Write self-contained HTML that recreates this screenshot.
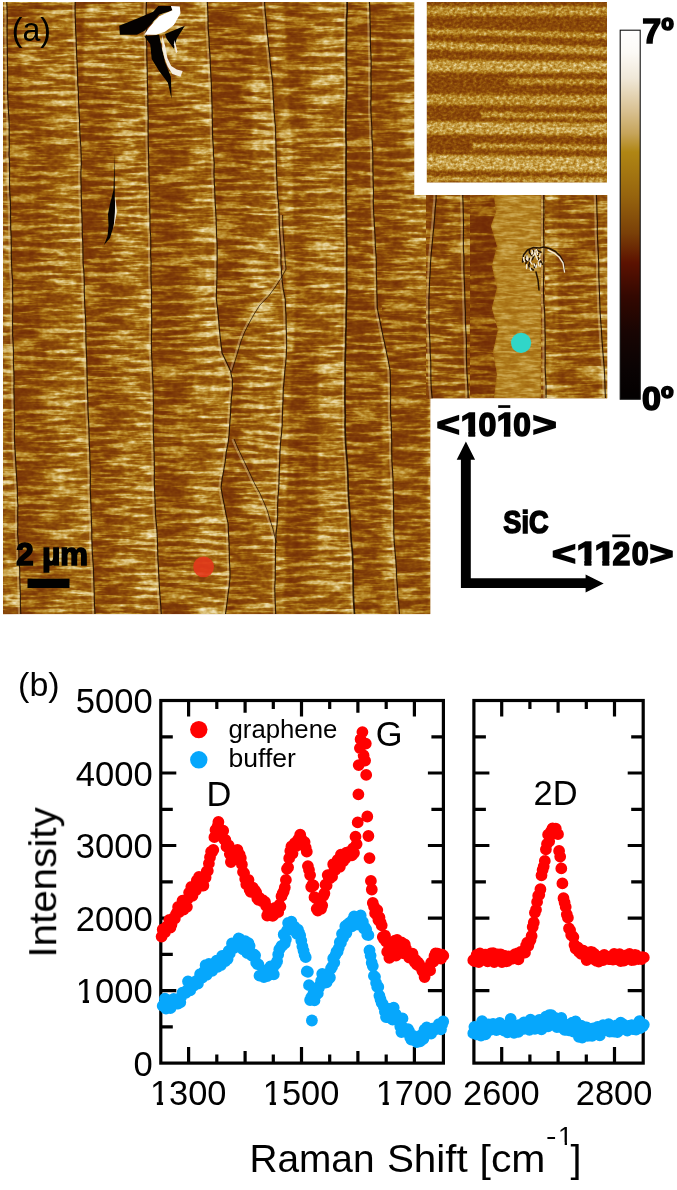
<!DOCTYPE html><html><head><meta charset="utf-8"><title>AFM and Raman</title>
<style>html,body{margin:0;padding:0;background:#fff}svg{display:block}text{font-family:"Liberation Sans",Arial,Helvetica,sans-serif;fill:#000}.b{font-weight:bold;stroke:#000}</style></head><body>
<svg width="677" height="1190" viewBox="0 0 677 1190"><g opacity="0.999">
<defs>
<filter id="cmA" x="0" y="0" width="100%" height="100%" filterUnits="objectBoundingBox" color-interpolation-filters="sRGB">
<feGaussianBlur in="SourceGraphic" stdDeviation="1.2" result="b0"/><feFlood flood-color="#808080" result="fl"/><feComposite in="b0" in2="fl" operator="over" result="b"/>
<feTurbulence type="fractalNoise" baseFrequency="0.026 0.21" numOctaves="3" seed="5"/><feColorMatrix type="matrix" values="1 0 0 0 0 1 0 0 0 0 1 0 0 0 0 0 0 0 0 1" result="n0"/>
<feComponentTransfer in="n0" result="n1"><feFuncR type="table" tableValues="0 0 0 0.02 0.12 0.38 0.72 0.95 1 1 1"/><feFuncG type="table" tableValues="0 0 0 0.02 0.12 0.38 0.72 0.95 1 1 1"/><feFuncB type="table" tableValues="0 0 0 0.02 0.12 0.38 0.72 0.95 1 1 1"/></feComponentTransfer>
<feTurbulence type="fractalNoise" baseFrequency="0.17 0.26" numOctaves="2" seed="11"/><feColorMatrix type="matrix" values="1 0 0 0 0 1 0 0 0 0 1 0 0 0 0 0 0 0 0 1" result="n2"/>
<feComposite in="n1" in2="n2" operator="arithmetic" k1="0" k2="0.46" k3="0.4" k4="0.07" result="n"/>
<feComposite in="b" in2="n" operator="arithmetic" k1="0" k2="1" k3="1.000" k4="-0.500" result="s"/>
<feComponentTransfer in="s" result="c"><feFuncR type="table" tableValues="0.439 0.455 0.478 0.510 0.557 0.616 0.686 0.761 0.839 0.918 0.973"/><feFuncG type="table" tableValues="0.165 0.180 0.212 0.251 0.306 0.384 0.486 0.596 0.722 0.847 0.933"/><feFuncB type="table" tableValues="0.024 0.027 0.031 0.035 0.043 0.059 0.110 0.235 0.424 0.643 0.831"/></feComponentTransfer>
<feComposite in="c" in2="SourceGraphic" operator="in"/>
</filter>
<filter id="cmC" x="0" y="0" width="100%" height="100%" filterUnits="objectBoundingBox" color-interpolation-filters="sRGB">
<feGaussianBlur in="SourceGraphic" stdDeviation="1.2" result="b0"/><feFlood flood-color="#808080" result="fl"/><feComposite in="b0" in2="fl" operator="over" result="b"/>
<feTurbulence type="fractalNoise" baseFrequency="0.05 0.3" numOctaves="3" seed="31"/><feColorMatrix type="matrix" values="1 0 0 0 0 1 0 0 0 0 1 0 0 0 0 0 0 0 0 1" result="n0"/>
<feComponentTransfer in="n0" result="n1"><feFuncR type="table" tableValues="0 0 0 0.02 0.12 0.38 0.72 0.95 1 1 1"/><feFuncG type="table" tableValues="0 0 0 0.02 0.12 0.38 0.72 0.95 1 1 1"/><feFuncB type="table" tableValues="0 0 0 0.02 0.12 0.38 0.72 0.95 1 1 1"/></feComponentTransfer>
<feTurbulence type="fractalNoise" baseFrequency="0.17 0.26" numOctaves="2" seed="37"/><feColorMatrix type="matrix" values="1 0 0 0 0 1 0 0 0 0 1 0 0 0 0 0 0 0 0 1" result="n2"/>
<feComposite in="n1" in2="n2" operator="arithmetic" k1="0" k2="0.46" k3="0.4" k4="0.07" result="n"/>
<feComposite in="b" in2="n" operator="arithmetic" k1="0" k2="1" k3="0.400" k4="-0.200" result="s"/>
<feComponentTransfer in="s" result="c"><feFuncR type="table" tableValues="0.439 0.455 0.478 0.510 0.557 0.616 0.686 0.761 0.839 0.918 0.973"/><feFuncG type="table" tableValues="0.165 0.180 0.212 0.251 0.306 0.384 0.486 0.596 0.722 0.847 0.933"/><feFuncB type="table" tableValues="0.024 0.027 0.031 0.035 0.043 0.059 0.110 0.235 0.424 0.643 0.831"/></feComponentTransfer>
<feComposite in="c" in2="SourceGraphic" operator="in"/>
</filter>
<filter id="cmB" x="0" y="0" width="100%" height="100%" filterUnits="objectBoundingBox" color-interpolation-filters="sRGB">
<feGaussianBlur in="SourceGraphic" stdDeviation="1.2" result="b0"/><feFlood flood-color="#808080" result="fl"/><feComposite in="b0" in2="fl" operator="over" result="b"/>
<feTurbulence type="fractalNoise" baseFrequency="0.029 0.22" numOctaves="3" seed="23"/><feColorMatrix type="matrix" values="1 0 0 0 0 1 0 0 0 0 1 0 0 0 0 0 0 0 0 1" result="n0"/>
<feComponentTransfer in="n0" result="n1"><feFuncR type="table" tableValues="0 0 0 0.02 0.12 0.38 0.72 0.95 1 1 1"/><feFuncG type="table" tableValues="0 0 0 0.02 0.12 0.38 0.72 0.95 1 1 1"/><feFuncB type="table" tableValues="0 0 0 0.02 0.12 0.38 0.72 0.95 1 1 1"/></feComponentTransfer>
<feTurbulence type="fractalNoise" baseFrequency="0.17 0.26" numOctaves="2" seed="29"/><feColorMatrix type="matrix" values="1 0 0 0 0 1 0 0 0 0 1 0 0 0 0 0 0 0 0 1" result="n2"/>
<feComposite in="n1" in2="n2" operator="arithmetic" k1="0" k2="0.46" k3="0.4" k4="0.07" result="n"/>
<feComposite in="b" in2="n" operator="arithmetic" k1="0" k2="1" k3="1.000" k4="-0.500" result="s"/>
<feComponentTransfer in="s" result="c"><feFuncR type="table" tableValues="0.439 0.455 0.478 0.510 0.557 0.616 0.686 0.761 0.839 0.918 0.973"/><feFuncG type="table" tableValues="0.165 0.180 0.212 0.251 0.306 0.384 0.486 0.596 0.722 0.847 0.933"/><feFuncB type="table" tableValues="0.024 0.027 0.031 0.035 0.043 0.059 0.110 0.235 0.424 0.643 0.831"/></feComponentTransfer>
<feComposite in="c" in2="SourceGraphic" operator="in"/>
</filter>
<filter id="cm2" x="0" y="0" width="100%" height="100%" color-interpolation-filters="sRGB">
<feGaussianBlur in="SourceGraphic" stdDeviation="0.9" result="b0"/><feFlood flood-color="#5e5e5e" result="fl"/><feComposite in="b0" in2="fl" operator="over" result="b"/>
<feTurbulence type="fractalNoise" baseFrequency="0.3 0.36" numOctaves="2" seed="2"/><feColorMatrix type="matrix" values="1 0 0 0 0 1 0 0 0 0 1 0 0 0 0 0 0 0 0 1" result="n1"/>
<feComposite in="b" in2="n1" operator="arithmetic" k1="0" k2="1" k3="0.6" k4="-0.3" result="s"/>
<feComponentTransfer in="s" result="c"><feFuncR type="table" tableValues="0.439 0.455 0.478 0.510 0.557 0.616 0.686 0.761 0.839 0.918 0.973"/><feFuncG type="table" tableValues="0.165 0.180 0.212 0.251 0.306 0.384 0.486 0.596 0.722 0.847 0.933"/><feFuncB type="table" tableValues="0.024 0.027 0.031 0.035 0.043 0.059 0.110 0.235 0.424 0.643 0.831"/></feComponentTransfer>
<feComposite in="c" in2="SourceGraphic" operator="in"/>
</filter>
<clipPath id="L"><path d="M3 2H414.4V195H607.3V398.3H430.2V614.4H3Z"/></clipPath>
<clipPath id="I"><rect x="426.8" y="2" width="180.2" height="180.6"/></clipPath>
<linearGradient id="cb" x1="0" y1="0" x2="0" y2="1"><stop offset="0.00" stop-color="rgb(255,255,255)"/><stop offset="0.06" stop-color="rgb(252,250,246)"/><stop offset="0.13" stop-color="rgb(240,232,216)"/><stop offset="0.22" stop-color="rgb(216,192,144)"/><stop offset="0.28" stop-color="rgb(198,164,90)"/><stop offset="0.33" stop-color="rgb(176,134,20)"/><stop offset="0.45" stop-color="rgb(150,100,14)"/><stop offset="0.55" stop-color="rgb(122,64,8)"/><stop offset="0.63" stop-color="rgb(92,18,0)"/><stop offset="0.72" stop-color="rgb(52,8,0)"/><stop offset="0.82" stop-color="rgb(24,5,3)"/><stop offset="0.92" stop-color="rgb(10,3,3)"/><stop offset="1.00" stop-color="rgb(3,0,0)"/></linearGradient>
<linearGradient id="tg" x1="0" y1="0" x2="1" y2="0"><stop offset="0" stop-color="#6e6e6e"/><stop offset="0.35" stop-color="#757575"/><stop offset="0.6" stop-color="#999999"/><stop offset="1" stop-color="#a6a6a6"/></linearGradient>
</defs>
<g clip-path="url(#L)">
<rect x="3" y="2" width="604" height="612.2" fill="#9c5e12"/>
<g filter="url(#cmA)"><path d="M6.8 2.0L7.1 11.0L7.3 20.0L7.1 29.0L7.2 38.0L7.3 47.0L7.4 56.0L7.5 65.0L7.6 74.0L7.7 83.0L7.6 92.0L8.0 101.0L8.4 110.0L9.0 119.0L9.2 128.0L9.2 137.0L9.3 146.0L9.1 155.0L9.6 164.0L9.6 173.0L9.5 182.0L9.7 191.0L10.3 200.0L10.6 209.0L10.6 218.0L10.7 227.0L11.1 236.0L11.3 245.0L11.3 254.0L11.5 263.0L11.9 272.0L12.7 281.0L12.6 290.0L12.7 299.0L12.8 308.0L12.5 317.0L12.6 326.0L12.6 335.0L13.2 344.0L13.5 353.0L13.4 362.0L13.8 371.0L14.1 380.0L13.9 389.0L14.1 398.0L14.3 407.0L14.3 416.0L14.6 425.0L14.4 434.0L14.6 443.0L15.2 452.0L15.7 461.0L16.2 470.0L16.7 479.0L17.4 488.0L17.4 497.0L17.9 506.0L17.7 515.0L17.8 524.0L17.6 533.0L18.2 542.0L18.8 551.0L19.0 560.0L19.7 569.0L19.8 578.0L20.1 587.0L20.4 596.0L20.4 605.0L20.8 614.0L95.0 614.0L94.5 605.0L94.3 596.0L94.1 587.0L93.7 578.0L93.5 569.0L92.9 560.0L92.2 551.0L91.9 542.0L91.8 533.0L91.6 524.0L91.2 515.0L90.9 506.0L90.6 497.0L90.2 488.0L90.4 479.0L90.3 470.0L89.9 461.0L89.8 452.0L89.2 443.0L89.1 434.0L88.8 425.0L88.3 416.0L87.9 407.0L87.8 398.0L87.3 389.0L87.2 380.0L87.0 371.0L86.8 362.0L86.5 353.0L86.0 344.0L85.9 335.0L85.8 326.0L85.5 317.0L84.9 308.0L84.5 299.0L84.3 290.0L84.3 281.0L83.9 272.0L83.1 263.0L82.9 254.0L82.9 245.0L82.4 236.0L82.2 227.0L82.0 218.0L81.6 209.0L81.4 200.0L81.2 191.0L81.0 182.0L80.9 173.0L81.3 164.0L81.2 155.0L80.8 146.0L80.1 137.0L79.7 128.0L79.5 119.0L79.0 110.0L78.5 101.0L78.4 92.0L77.7 83.0L77.6 74.0L77.2 65.0L76.7 56.0L76.4 47.0L76.1 38.0L75.6 29.0L75.4 20.0L75.1 11.0L75.2 2.0Z" fill="url(#tg)"/><path d="M146.5 2.0L146.2 11.0L146.1 20.0L146.3 29.0L146.4 38.0L146.8 47.0L146.8 56.0L147.1 65.0L147.3 74.0L147.4 83.0L147.7 92.0L147.9 101.0L147.9 110.0L148.2 119.0L148.1 128.0L148.2 137.0L148.3 146.0L148.6 155.0L148.7 164.0L148.9 173.0L149.1 182.0L149.6 191.0L149.6 200.0L149.8 209.0L150.0 218.0L149.9 227.0L150.7 236.0L150.8 245.0L150.6 254.0L151.1 263.0L150.9 272.0L151.1 281.0L151.5 290.0L151.5 299.0L151.5 308.0L151.6 317.0L151.7 326.0L151.5 335.0L151.4 344.0L151.5 353.0L152.0 362.0L152.3 371.0L152.9 380.0L153.2 389.0L153.3 398.0L153.5 407.0L153.3 416.0L153.3 425.0L153.4 434.0L153.7 443.0L154.1 452.0L154.3 461.0L154.4 470.0L154.3 479.0L154.5 488.0L154.9 497.0L155.3 506.0L155.5 515.0L156.4 524.0L157.1 533.0L157.5 542.0L157.7 551.0L158.0 560.0L158.5 569.0L158.9 578.0L159.4 587.0L160.0 596.0L160.7 605.0L161.3 614.0L225.5 614.0L226.8 605.0L227.9 596.0L229.1 587.0L230.0 578.0L229.9 569.0L229.4 560.0L229.3 551.0L229.0 542.0L228.5 533.0L228.2 524.0L226.2 515.0L224.5 506.0L222.7 497.0L221.1 488.0L222.1 479.0L223.8 470.0L225.3 461.0L226.3 452.0L228.1 443.0L229.2 434.0L229.7 425.0L230.4 416.0L230.8 407.0L231.4 398.0L232.4 389.0L232.4 380.0L230.5 371.0L226.4 362.0L222.1 353.0L221.0 344.0L220.0 335.0L219.1 326.0L218.4 317.0L217.5 308.0L216.4 299.0L216.5 290.0L216.9 281.0L217.0 272.0L217.1 263.0L217.2 254.0L217.2 245.0L216.6 236.0L216.4 227.0L216.1 218.0L215.6 209.0L215.0 200.0L214.8 191.0L214.3 182.0L214.0 173.0L214.3 164.0L213.5 155.0L213.3 146.0L212.6 137.0L212.5 128.0L212.3 119.0L212.1 110.0L211.9 101.0L211.6 92.0L211.3 83.0L210.8 74.0L210.3 65.0L210.1 56.0L209.3 47.0L209.0 38.0L208.2 29.0L208.0 20.0L207.8 11.0L207.3 2.0Z" fill="url(#tg)"/><path d="M264.6 2.0L265.1 11.0L266.1 20.0L266.8 29.0L267.8 38.0L268.7 47.0L269.8 56.0L270.5 65.0L271.7 74.0L272.7 83.0L273.0 92.0L273.5 101.0L274.0 110.0L274.7 119.0L275.6 128.0L275.7 137.0L276.0 146.0L276.1 155.0L276.4 164.0L276.5 173.0L277.1 182.0L277.3 191.0L278.2 200.0L278.9 209.0L279.1 218.0L279.4 227.0L279.8 236.0L280.6 245.0L280.9 254.0L281.0 263.0L281.5 272.0L282.2 281.0L283.4 290.0L285.2 299.0L285.6 308.0L286.1 317.0L286.2 326.0L286.5 335.0L286.7 344.0L286.4 353.0L285.9 362.0L284.8 371.0L284.2 380.0L283.3 389.0L283.1 398.0L282.7 407.0L282.4 416.0L282.2 425.0L281.5 434.0L280.5 443.0L280.0 452.0L279.7 461.0L279.3 470.0L279.1 479.0L278.8 488.0L278.0 497.0L277.6 506.0L277.7 515.0L277.1 524.0L276.1 533.0L275.6 542.0L275.4 551.0L275.5 560.0L275.3 569.0L275.3 578.0L274.8 587.0L275.0 596.0L275.4 605.0L275.7 614.0L354.5 614.0L353.9 605.0L353.4 596.0L353.3 587.0L353.1 578.0L353.0 569.0L352.8 560.0L352.3 551.0L351.4 542.0L350.8 533.0L350.2 524.0L350.0 515.0L349.2 506.0L348.6 497.0L348.2 488.0L348.0 479.0L347.6 470.0L347.1 461.0L346.3 452.0L345.6 443.0L345.3 434.0L345.0 425.0L345.3 416.0L345.0 407.0L344.9 398.0L345.0 389.0L345.1 380.0L345.1 371.0L345.1 362.0L345.4 353.0L345.7 344.0L345.7 335.0L346.2 326.0L346.1 317.0L346.3 308.0L346.6 299.0L346.9 290.0L346.6 281.0L346.6 272.0L346.7 263.0L346.6 254.0L346.9 245.0L346.5 236.0L346.5 227.0L346.3 218.0L346.4 209.0L346.0 200.0L346.1 191.0L346.0 182.0L346.1 173.0L346.0 164.0L346.1 155.0L346.3 146.0L345.9 137.0L345.9 128.0L345.9 119.0L346.0 110.0L346.3 101.0L346.7 92.0L346.7 83.0L346.6 74.0L346.4 65.0L346.4 56.0L346.3 47.0L346.5 38.0L346.5 29.0L346.5 20.0L347.2 11.0L347.1 2.0Z" fill="url(#tg)"/><path d="M369.4 2.0L369.9 11.0L370.0 20.0L370.3 29.0L370.3 38.0L370.5 47.0L371.0 56.0L371.2 65.0L370.9 74.0L371.1 83.0L371.1 92.0L370.9 101.0L370.9 110.0L371.3 119.0L371.9 128.0L371.9 137.0L372.4 146.0L372.9 155.0L372.8 164.0L373.0 173.0L373.2 182.0L373.5 191.0L373.3 200.0L373.5 209.0L374.0 218.0L374.5 227.0L375.1 236.0L375.3 245.0L376.0 254.0L376.4 263.0L376.3 272.0L376.7 281.0L376.8 290.0L377.1 299.0L377.3 308.0L379.1 317.0L381.0 326.0L382.8 335.0L384.8 344.0L386.7 353.0L388.5 362.0L390.2 371.0L390.4 380.0L390.5 389.0L390.6 398.0L390.5 407.0L390.7 416.0L391.4 425.0L391.4 434.0L391.7 443.0L391.7 452.0L391.9 461.0L392.5 470.0L393.0 479.0L393.2 488.0L393.5 497.0L393.6 506.0L393.7 515.0L393.7 524.0L393.8 533.0L394.2 542.0L395.0 551.0L395.8 560.0L396.4 569.0L396.7 578.0L397.4 587.0L397.8 596.0L398.7 605.0L399.5 614.0L439.6 614.0L439.6 605.0L439.5 596.0L439.5 587.0L439.5 578.0L439.2 569.0L438.6 560.0L438.2 551.0L437.8 542.0L437.3 533.0L437.1 524.0L436.8 515.0L436.6 506.0L436.4 497.0L435.7 488.0L435.0 479.0L434.6 470.0L434.3 461.0L434.2 452.0L434.0 443.0L433.5 434.0L433.0 425.0L432.6 416.0L432.5 407.0L432.2 398.0L431.3 389.0L430.9 380.0L430.8 371.0L430.8 362.0L430.2 353.0L430.0 344.0L429.6 335.0L429.1 326.0L428.9 317.0L429.0 308.0L428.9 299.0L429.3 290.0L429.6 281.0L430.2 272.0L430.5 263.0L431.2 254.0L432.1 245.0L432.9 236.0L433.8 227.0L434.6 218.0L435.2 209.0L436.1 200.0L436.2 191.0L435.8 182.0L435.6 173.0L435.3 164.0L435.2 155.0L434.5 146.0L434.6 137.0L434.2 128.0L434.0 119.0L433.7 110.0L433.1 101.0L433.1 92.0L432.9 83.0L432.2 74.0L432.1 65.0L431.6 56.0L431.3 47.0L431.3 38.0L430.8 29.0L430.2 20.0L430.4 11.0L430.2 2.0Z" fill="url(#tg)"/><path d="M468 195L494 195L496 212L491 226L497 246L492 266L497 288L492 308L498 330L493 352L497 374L494 398L468 398Z" fill="#545454"/><rect x="545" y="195" width="14" height="204" fill="#9e9e9e"/><rect x="558" y="195" width="42" height="204" fill="#808080"/><rect x="599" y="195" width="9" height="204" fill="#999999"/><path d="M268 2L284 2L292 150L296 300L288 450L284 614L272 614L280 450L286 300L280 150Z" fill="#adadad" opacity=".7"/><rect x="22" y="15" width="50" height="90" rx="8" fill="#9e9e9e" opacity=".8"/><rect x="152" y="5" width="57" height="95" rx="8" fill="#a1a1a1" opacity=".8"/><rect x="295" y="340" width="23" height="220" rx="8" fill="#6b6b6b" opacity=".8"/><rect x="396" y="300" width="32" height="314" rx="8" fill="#757575" opacity=".8"/><rect x="12" y="100" width="28" height="130" rx="8" fill="#757575" opacity=".8"/></g>
<g filter="url(#cmB)"><path d="M75.2 2.0L75.1 11.0L75.4 20.0L75.6 29.0L76.1 38.0L76.4 47.0L76.7 56.0L77.2 65.0L77.6 74.0L77.7 83.0L78.4 92.0L78.5 101.0L79.0 110.0L79.5 119.0L79.7 128.0L80.1 137.0L80.8 146.0L81.2 155.0L81.3 164.0L80.9 173.0L81.0 182.0L81.2 191.0L81.4 200.0L81.6 209.0L82.0 218.0L82.2 227.0L82.4 236.0L82.9 245.0L82.9 254.0L83.1 263.0L83.9 272.0L84.3 281.0L84.3 290.0L84.5 299.0L84.9 308.0L85.5 317.0L85.8 326.0L85.9 335.0L86.0 344.0L86.5 353.0L86.8 362.0L87.0 371.0L87.2 380.0L87.3 389.0L87.8 398.0L87.9 407.0L88.3 416.0L88.8 425.0L89.1 434.0L89.2 443.0L89.8 452.0L89.9 461.0L90.3 470.0L90.4 479.0L90.2 488.0L90.6 497.0L90.9 506.0L91.2 515.0L91.6 524.0L91.8 533.0L91.9 542.0L92.2 551.0L92.9 560.0L93.5 569.0L93.7 578.0L94.1 587.0L94.3 596.0L94.5 605.0L95.0 614.0L161.3 614.0L160.7 605.0L160.0 596.0L159.4 587.0L158.9 578.0L158.5 569.0L158.0 560.0L157.7 551.0L157.5 542.0L157.1 533.0L156.4 524.0L155.5 515.0L155.3 506.0L154.9 497.0L154.5 488.0L154.3 479.0L154.4 470.0L154.3 461.0L154.1 452.0L153.7 443.0L153.4 434.0L153.3 425.0L153.3 416.0L153.5 407.0L153.3 398.0L153.2 389.0L152.9 380.0L152.3 371.0L152.0 362.0L151.5 353.0L151.4 344.0L151.5 335.0L151.7 326.0L151.6 317.0L151.5 308.0L151.5 299.0L151.5 290.0L151.1 281.0L150.9 272.0L151.1 263.0L150.6 254.0L150.8 245.0L150.7 236.0L149.9 227.0L150.0 218.0L149.8 209.0L149.6 200.0L149.6 191.0L149.1 182.0L148.9 173.0L148.7 164.0L148.6 155.0L148.3 146.0L148.2 137.0L148.1 128.0L148.2 119.0L147.9 110.0L147.9 101.0L147.7 92.0L147.4 83.0L147.3 74.0L147.1 65.0L146.8 56.0L146.8 47.0L146.4 38.0L146.3 29.0L146.1 20.0L146.2 11.0L146.5 2.0Z" fill="url(#tg)"/><path d="M207.3 2.0L207.8 11.0L208.0 20.0L208.2 29.0L209.0 38.0L209.3 47.0L210.1 56.0L210.3 65.0L210.8 74.0L211.3 83.0L211.6 92.0L211.9 101.0L212.1 110.0L212.3 119.0L212.5 128.0L212.6 137.0L213.3 146.0L213.5 155.0L214.3 164.0L214.0 173.0L214.3 182.0L214.8 191.0L215.0 200.0L215.6 209.0L216.1 218.0L216.4 227.0L216.6 236.0L217.2 245.0L217.2 254.0L217.1 263.0L217.0 272.0L216.9 281.0L216.5 290.0L216.4 299.0L217.5 308.0L218.4 317.0L219.1 326.0L220.0 335.0L221.0 344.0L222.1 353.0L226.4 362.0L230.5 371.0L232.4 380.0L232.4 389.0L231.4 398.0L230.8 407.0L230.4 416.0L229.7 425.0L229.2 434.0L228.1 443.0L226.3 452.0L225.3 461.0L223.8 470.0L222.1 479.0L221.1 488.0L222.7 497.0L224.5 506.0L226.2 515.0L228.2 524.0L228.5 533.0L229.0 542.0L229.3 551.0L229.4 560.0L229.9 569.0L230.0 578.0L229.1 587.0L227.9 596.0L226.8 605.0L225.5 614.0L275.7 614.0L275.4 605.0L275.0 596.0L274.8 587.0L275.3 578.0L275.3 569.0L275.5 560.0L275.4 551.0L275.6 542.0L276.1 533.0L277.1 524.0L277.7 515.0L277.6 506.0L278.0 497.0L278.8 488.0L279.1 479.0L279.3 470.0L279.7 461.0L280.0 452.0L280.5 443.0L281.5 434.0L282.2 425.0L282.4 416.0L282.7 407.0L283.1 398.0L283.3 389.0L284.2 380.0L284.8 371.0L285.9 362.0L286.4 353.0L286.7 344.0L286.5 335.0L286.2 326.0L286.1 317.0L285.6 308.0L285.2 299.0L283.4 290.0L282.2 281.0L281.5 272.0L281.0 263.0L280.9 254.0L280.6 245.0L279.8 236.0L279.4 227.0L279.1 218.0L278.9 209.0L278.2 200.0L277.3 191.0L277.1 182.0L276.5 173.0L276.4 164.0L276.1 155.0L276.0 146.0L275.7 137.0L275.6 128.0L274.7 119.0L274.0 110.0L273.5 101.0L273.0 92.0L272.7 83.0L271.7 74.0L270.5 65.0L269.8 56.0L268.7 47.0L267.8 38.0L266.8 29.0L266.1 20.0L265.1 11.0L264.6 2.0Z" fill="url(#tg)"/><path d="M347.1 2.0L347.2 11.0L346.5 20.0L346.5 29.0L346.5 38.0L346.3 47.0L346.4 56.0L346.4 65.0L346.6 74.0L346.7 83.0L346.7 92.0L346.3 101.0L346.0 110.0L345.9 119.0L345.9 128.0L345.9 137.0L346.3 146.0L346.1 155.0L346.0 164.0L346.1 173.0L346.0 182.0L346.1 191.0L346.0 200.0L346.4 209.0L346.3 218.0L346.5 227.0L346.5 236.0L346.9 245.0L346.6 254.0L346.7 263.0L346.6 272.0L346.6 281.0L346.9 290.0L346.6 299.0L346.3 308.0L346.1 317.0L346.2 326.0L345.7 335.0L345.7 344.0L345.4 353.0L345.1 362.0L345.1 371.0L345.1 380.0L345.0 389.0L344.9 398.0L345.0 407.0L345.3 416.0L345.0 425.0L345.3 434.0L345.6 443.0L346.3 452.0L347.1 461.0L347.6 470.0L348.0 479.0L348.2 488.0L348.6 497.0L349.2 506.0L350.0 515.0L350.2 524.0L350.8 533.0L351.4 542.0L352.3 551.0L352.8 560.0L353.0 569.0L353.1 578.0L353.3 587.0L353.4 596.0L353.9 605.0L354.5 614.0L399.5 614.0L398.7 605.0L397.8 596.0L397.4 587.0L396.7 578.0L396.4 569.0L395.8 560.0L395.0 551.0L394.2 542.0L393.8 533.0L393.7 524.0L393.7 515.0L393.6 506.0L393.5 497.0L393.2 488.0L393.0 479.0L392.5 470.0L391.9 461.0L391.7 452.0L391.7 443.0L391.4 434.0L391.4 425.0L390.7 416.0L390.5 407.0L390.6 398.0L390.5 389.0L390.4 380.0L390.2 371.0L388.5 362.0L386.7 353.0L384.8 344.0L382.8 335.0L381.0 326.0L379.1 317.0L377.3 308.0L377.1 299.0L376.8 290.0L376.7 281.0L376.3 272.0L376.4 263.0L376.0 254.0L375.3 245.0L375.1 236.0L374.5 227.0L374.0 218.0L373.5 209.0L373.3 200.0L373.5 191.0L373.2 182.0L373.0 173.0L372.8 164.0L372.9 155.0L372.4 146.0L371.9 137.0L371.9 128.0L371.3 119.0L370.9 110.0L370.9 101.0L371.1 92.0L371.1 83.0L370.9 74.0L371.2 65.0L371.0 56.0L370.5 47.0L370.3 38.0L370.3 29.0L370.0 20.0L369.9 11.0L369.4 2.0Z" fill="url(#tg)"/><path d="M3 2L6.8 2.0L7.1 11.0L7.3 20.0L7.1 29.0L7.2 38.0L7.3 47.0L7.4 56.0L7.5 65.0L7.6 74.0L7.7 83.0L7.6 92.0L8.0 101.0L8.4 110.0L9.0 119.0L9.2 128.0L9.2 137.0L9.3 146.0L9.1 155.0L9.6 164.0L9.6 173.0L9.5 182.0L9.7 191.0L10.3 200.0L10.6 209.0L10.6 218.0L10.7 227.0L11.1 236.0L11.3 245.0L11.3 254.0L11.5 263.0L11.9 272.0L12.7 281.0L12.6 290.0L12.7 299.0L12.8 308.0L12.5 317.0L12.6 326.0L12.6 335.0L13.2 344.0L13.5 353.0L13.4 362.0L13.8 371.0L14.1 380.0L13.9 389.0L14.1 398.0L14.3 407.0L14.3 416.0L14.6 425.0L14.4 434.0L14.6 443.0L15.2 452.0L15.7 461.0L16.2 470.0L16.7 479.0L17.4 488.0L17.4 497.0L17.9 506.0L17.7 515.0L17.8 524.0L17.6 533.0L18.2 542.0L18.8 551.0L19.0 560.0L19.7 569.0L19.8 578.0L20.1 587.0L20.4 596.0L20.4 605.0L20.8 614.0L3 614.2Z" fill="#999999"/><rect x="426" y="195" width="44" height="204" fill="#7d7d7d"/><rect x="539.6" y="195" width="5" height="204" fill="#808080"/><rect x="84" y="5" width="59" height="80" rx="8" fill="#a1a1a1" opacity=".8"/><rect x="217" y="40" width="35" height="130" rx="8" fill="#6b6b6b" opacity=".8"/><rect x="353" y="300" width="29" height="314" rx="8" fill="#707070" opacity=".8"/><rect x="84" y="100" width="28" height="160" rx="8" fill="#737373" opacity=".8"/><rect x="348" y="20" width="18" height="270" rx="8" fill="#757575" opacity=".8"/></g>
<g filter="url(#cmC)"><path d="M494 195L496 212L491 226L497 246L492 266L497 288L492 308L498 330L493 352L497 374L494 398L541 398L541 195Z" fill="#a6a6a6"/></g>
<g fill="none" stroke="#ecd9a8" stroke-opacity=".36" stroke-width="2.2" stroke-linejoin="round" transform="translate(-1.7 0)">
<path d="M6.8 2.0L7.1 11.0L7.3 20.0L7.1 29.0L7.2 38.0L7.3 47.0L7.4 56.0L7.5 65.0L7.6 74.0L7.7 83.0L7.6 92.0L8.0 101.0L8.4 110.0L9.0 119.0L9.2 128.0L9.2 137.0L9.3 146.0L9.1 155.0L9.6 164.0L9.6 173.0L9.5 182.0L9.7 191.0L10.3 200.0L10.6 209.0L10.6 218.0L10.7 227.0L11.1 236.0L11.3 245.0L11.3 254.0L11.5 263.0L11.9 272.0L12.7 281.0L12.6 290.0L12.7 299.0L12.8 308.0L12.5 317.0L12.6 326.0L12.6 335.0L13.2 344.0L13.5 353.0L13.4 362.0L13.8 371.0L14.1 380.0L13.9 389.0L14.1 398.0L14.3 407.0L14.3 416.0L14.6 425.0L14.4 434.0L14.6 443.0L15.2 452.0L15.7 461.0L16.2 470.0L16.7 479.0L17.4 488.0L17.4 497.0L17.9 506.0L17.7 515.0L17.8 524.0L17.6 533.0L18.2 542.0L18.8 551.0L19.0 560.0L19.7 569.0L19.8 578.0L20.1 587.0L20.4 596.0L20.4 605.0L20.8 614.0"/>
<path d="M75.2 2.0L75.1 11.0L75.4 20.0L75.6 29.0L76.1 38.0L76.4 47.0L76.7 56.0L77.2 65.0L77.6 74.0L77.7 83.0L78.4 92.0L78.5 101.0L79.0 110.0L79.5 119.0L79.7 128.0L80.1 137.0L80.8 146.0L81.2 155.0L81.3 164.0L80.9 173.0L81.0 182.0L81.2 191.0L81.4 200.0L81.6 209.0L82.0 218.0L82.2 227.0L82.4 236.0L82.9 245.0L82.9 254.0L83.1 263.0L83.9 272.0L84.3 281.0L84.3 290.0L84.5 299.0L84.9 308.0L85.5 317.0L85.8 326.0L85.9 335.0L86.0 344.0L86.5 353.0L86.8 362.0L87.0 371.0L87.2 380.0L87.3 389.0L87.8 398.0L87.9 407.0L88.3 416.0L88.8 425.0L89.1 434.0L89.2 443.0L89.8 452.0L89.9 461.0L90.3 470.0L90.4 479.0L90.2 488.0L90.6 497.0L90.9 506.0L91.2 515.0L91.6 524.0L91.8 533.0L91.9 542.0L92.2 551.0L92.9 560.0L93.5 569.0L93.7 578.0L94.1 587.0L94.3 596.0L94.5 605.0L95.0 614.0"/>
<path d="M146.5 2.0L146.2 11.0L146.1 20.0L146.3 29.0L146.4 38.0L146.8 47.0L146.8 56.0L147.1 65.0L147.3 74.0L147.4 83.0L147.7 92.0L147.9 101.0L147.9 110.0L148.2 119.0L148.1 128.0L148.2 137.0L148.3 146.0L148.6 155.0L148.7 164.0L148.9 173.0L149.1 182.0L149.6 191.0L149.6 200.0L149.8 209.0L150.0 218.0L149.9 227.0L150.7 236.0L150.8 245.0L150.6 254.0L151.1 263.0L150.9 272.0L151.1 281.0L151.5 290.0L151.5 299.0L151.5 308.0L151.6 317.0L151.7 326.0L151.5 335.0L151.4 344.0L151.5 353.0L152.0 362.0L152.3 371.0L152.9 380.0L153.2 389.0L153.3 398.0L153.5 407.0L153.3 416.0L153.3 425.0L153.4 434.0L153.7 443.0L154.1 452.0L154.3 461.0L154.4 470.0L154.3 479.0L154.5 488.0L154.9 497.0L155.3 506.0L155.5 515.0L156.4 524.0L157.1 533.0L157.5 542.0L157.7 551.0L158.0 560.0L158.5 569.0L158.9 578.0L159.4 587.0L160.0 596.0L160.7 605.0L161.3 614.0"/>
<path d="M207.3 2.0L207.8 11.0L208.0 20.0L208.2 29.0L209.0 38.0L209.3 47.0L210.1 56.0L210.3 65.0L210.8 74.0L211.3 83.0L211.6 92.0L211.9 101.0L212.1 110.0L212.3 119.0L212.5 128.0L212.6 137.0L213.3 146.0L213.5 155.0L214.3 164.0L214.0 173.0L214.3 182.0L214.8 191.0L215.0 200.0L215.6 209.0L216.1 218.0L216.4 227.0L216.6 236.0L217.2 245.0L217.2 254.0L217.1 263.0L217.0 272.0L216.9 281.0L216.5 290.0L216.4 299.0L217.5 308.0L218.4 317.0L219.1 326.0L220.0 335.0L221.0 344.0L222.1 353.0L226.4 362.0L230.5 371.0L232.4 380.0L232.4 389.0L231.4 398.0L230.8 407.0L230.4 416.0L229.7 425.0L229.2 434.0L228.1 443.0L226.3 452.0L225.3 461.0L223.8 470.0L222.1 479.0L221.1 488.0L222.7 497.0L224.5 506.0L226.2 515.0L228.2 524.0L228.5 533.0L229.0 542.0L229.3 551.0L229.4 560.0L229.9 569.0L230.0 578.0L229.1 587.0L227.9 596.0L226.8 605.0L225.5 614.0"/>
<path d="M264.6 2.0L265.1 11.0L266.1 20.0L266.8 29.0L267.8 38.0L268.7 47.0L269.8 56.0L270.5 65.0L271.7 74.0L272.7 83.0L273.0 92.0L273.5 101.0L274.0 110.0L274.7 119.0L275.6 128.0L275.7 137.0L276.0 146.0L276.1 155.0L276.4 164.0L276.5 173.0L277.1 182.0L277.3 191.0L278.2 200.0L278.9 209.0L279.1 218.0L279.4 227.0L279.8 236.0L280.6 245.0L280.9 254.0L281.0 263.0L281.5 272.0L282.2 281.0L283.4 290.0L285.2 299.0L285.6 308.0L286.1 317.0L286.2 326.0L286.5 335.0L286.7 344.0L286.4 353.0L285.9 362.0L284.8 371.0L284.2 380.0L283.3 389.0L283.1 398.0L282.7 407.0L282.4 416.0L282.2 425.0L281.5 434.0L280.5 443.0L280.0 452.0L279.7 461.0L279.3 470.0L279.1 479.0L278.8 488.0L278.0 497.0L277.6 506.0L277.7 515.0L277.1 524.0L276.1 533.0L275.6 542.0L275.4 551.0L275.5 560.0L275.3 569.0L275.3 578.0L274.8 587.0L275.0 596.0L275.4 605.0L275.7 614.0"/>
<path d="M347.1 2.0L347.2 11.0L346.5 20.0L346.5 29.0L346.5 38.0L346.3 47.0L346.4 56.0L346.4 65.0L346.6 74.0L346.7 83.0L346.7 92.0L346.3 101.0L346.0 110.0L345.9 119.0L345.9 128.0L345.9 137.0L346.3 146.0L346.1 155.0L346.0 164.0L346.1 173.0L346.0 182.0L346.1 191.0L346.0 200.0L346.4 209.0L346.3 218.0L346.5 227.0L346.5 236.0L346.9 245.0L346.6 254.0L346.7 263.0L346.6 272.0L346.6 281.0L346.9 290.0L346.6 299.0L346.3 308.0L346.1 317.0L346.2 326.0L345.7 335.0L345.7 344.0L345.4 353.0L345.1 362.0L345.1 371.0L345.1 380.0L345.0 389.0L344.9 398.0L345.0 407.0L345.3 416.0L345.0 425.0L345.3 434.0L345.6 443.0L346.3 452.0L347.1 461.0L347.6 470.0L348.0 479.0L348.2 488.0L348.6 497.0L349.2 506.0L350.0 515.0L350.2 524.0L350.8 533.0L351.4 542.0L352.3 551.0L352.8 560.0L353.0 569.0L353.1 578.0L353.3 587.0L353.4 596.0L353.9 605.0L354.5 614.0"/>
<path d="M369.4 2.0L369.9 11.0L370.0 20.0L370.3 29.0L370.3 38.0L370.5 47.0L371.0 56.0L371.2 65.0L370.9 74.0L371.1 83.0L371.1 92.0L370.9 101.0L370.9 110.0L371.3 119.0L371.9 128.0L371.9 137.0L372.4 146.0L372.9 155.0L372.8 164.0L373.0 173.0L373.2 182.0L373.5 191.0L373.3 200.0L373.5 209.0L374.0 218.0L374.5 227.0L375.1 236.0L375.3 245.0L376.0 254.0L376.4 263.0L376.3 272.0L376.7 281.0L376.8 290.0L377.1 299.0L377.3 308.0L379.1 317.0L381.0 326.0L382.8 335.0L384.8 344.0L386.7 353.0L388.5 362.0L390.2 371.0L390.4 380.0L390.5 389.0L390.6 398.0L390.5 407.0L390.7 416.0L391.4 425.0L391.4 434.0L391.7 443.0L391.7 452.0L391.9 461.0L392.5 470.0L393.0 479.0L393.2 488.0L393.5 497.0L393.6 506.0L393.7 515.0L393.7 524.0L393.8 533.0L394.2 542.0L395.0 551.0L395.8 560.0L396.4 569.0L396.7 578.0L397.4 587.0L397.8 596.0L398.7 605.0L399.5 614.0"/>
<path d="M430.2 2.0L430.4 11.0L430.2 20.0L430.8 29.0L431.3 38.0L431.3 47.0L431.6 56.0L432.1 65.0L432.2 74.0L432.9 83.0L433.1 92.0L433.1 101.0L433.7 110.0L434.0 119.0L434.2 128.0L434.6 137.0L434.5 146.0L435.2 155.0L435.3 164.0L435.6 173.0L435.8 182.0L436.2 191.0L436.1 200.0L435.2 209.0L434.6 218.0L433.8 227.0L432.9 236.0L432.1 245.0L431.2 254.0L430.5 263.0L430.2 272.0L429.6 281.0L429.3 290.0L428.9 299.0L429.0 308.0L428.9 317.0L429.1 326.0L429.6 335.0L430.0 344.0L430.2 353.0L430.8 362.0L430.8 371.0L430.9 380.0L431.3 389.0L432.2 398.0L432.5 407.0L432.6 416.0L433.0 425.0L433.5 434.0L434.0 443.0L434.2 452.0L434.3 461.0L434.6 470.0L435.0 479.0L435.7 488.0L436.4 497.0L436.6 506.0L436.8 515.0L437.1 524.0L437.3 533.0L437.8 542.0L438.2 551.0L438.6 560.0L439.2 569.0L439.5 578.0L439.5 587.0L439.5 596.0L439.6 605.0L439.6 614.0"/>
<path d="M462.7 195.0L463.1 204.0L463.3 213.0L463.5 222.0L463.5 231.0L463.4 240.0L463.4 249.0L464.0 258.0L463.8 267.0L464.1 276.0L464.5 285.0L464.8 294.0L465.0 303.0L465.4 312.0L465.4 321.0L465.8 330.0L466.4 339.0L466.4 348.0L466.4 357.0L466.7 366.0L467.1 375.0L467.7 384.0L468.1 393.0L468.1 398.0"/>
<path d="M543.8 195.0L543.8 204.0L543.9 213.0L543.6 222.0L543.7 231.0L543.7 240.0L544.0 249.0L543.7 258.0L543.9 267.0L543.6 276.0L543.5 285.0L543.5 294.0L543.9 303.0L544.7 312.0L544.9 321.0L545.0 330.0L545.3 339.0L545.1 348.0L545.3 357.0L545.1 366.0L545.5 375.0L546.0 384.0L546.1 393.0L546.0 398.0"/>
<path d="M596.4 195.0L596.8 204.0L597.0 213.0L597.4 222.0L597.3 231.0L597.6 240.0L598.1 249.0L598.5 258.0L598.8 267.0L598.8 276.0L599.2 285.0L599.5 294.0L599.8 303.0L600.1 312.0L600.7 321.0L601.4 330.0L601.9 339.0L602.6 348.0L603.3 357.0L604.1 366.0L604.6 375.0L604.9 384.0L605.2 393.0L605.5 398.0"/>
<path d="M282.6 215.0L282.7 224.0L283.2 233.0L283.9 242.0L284.7 251.0L285.1 260.0L286.1 269.0L281.2 278.0L275.3 287.0L268.6 296.0L259.9 305.0L254.2 314.0L249.2 323.0L244.7 332.0L241.1 341.0L238.4 350.0L235.7 359.0L232.9 368.0L231.6 372.0"/>
<path d="M234.1 439.0L237.8 448.0L242.1 457.0L246.4 466.0L250.6 475.0L254.8 484.0L259.7 493.0L263.8 502.0L267.5 511.0L270.1 520.0L273.0 529.0L275.1 538.0L276.9 543.0"/>
</g>
<g fill="none" stroke="#1a0b00" stroke-opacity=".85" stroke-linejoin="round">
<path d="M6.8 2.0L7.1 11.0L7.3 20.0L7.1 29.0L7.2 38.0L7.3 47.0L7.4 56.0L7.5 65.0L7.6 74.0L7.7 83.0L7.6 92.0L8.0 101.0L8.4 110.0L9.0 119.0L9.2 128.0L9.2 137.0L9.3 146.0L9.1 155.0L9.6 164.0L9.6 173.0L9.5 182.0L9.7 191.0L10.3 200.0L10.6 209.0L10.6 218.0L10.7 227.0L11.1 236.0L11.3 245.0L11.3 254.0L11.5 263.0L11.9 272.0L12.7 281.0L12.6 290.0L12.7 299.0L12.8 308.0L12.5 317.0L12.6 326.0L12.6 335.0L13.2 344.0L13.5 353.0L13.4 362.0L13.8 371.0L14.1 380.0L13.9 389.0L14.1 398.0L14.3 407.0L14.3 416.0L14.6 425.0L14.4 434.0L14.6 443.0L15.2 452.0L15.7 461.0L16.2 470.0L16.7 479.0L17.4 488.0L17.4 497.0L17.9 506.0L17.7 515.0L17.8 524.0L17.6 533.0L18.2 542.0L18.8 551.0L19.0 560.0L19.7 569.0L19.8 578.0L20.1 587.0L20.4 596.0L20.4 605.0L20.8 614.0" stroke-width="1.10"/>
<path d="M75.2 2.0L75.1 11.0L75.4 20.0L75.6 29.0L76.1 38.0L76.4 47.0L76.7 56.0L77.2 65.0L77.6 74.0L77.7 83.0L78.4 92.0L78.5 101.0L79.0 110.0L79.5 119.0L79.7 128.0L80.1 137.0L80.8 146.0L81.2 155.0L81.3 164.0L80.9 173.0L81.0 182.0L81.2 191.0L81.4 200.0L81.6 209.0L82.0 218.0L82.2 227.0L82.4 236.0L82.9 245.0L82.9 254.0L83.1 263.0L83.9 272.0L84.3 281.0L84.3 290.0L84.5 299.0L84.9 308.0L85.5 317.0L85.8 326.0L85.9 335.0L86.0 344.0L86.5 353.0L86.8 362.0L87.0 371.0L87.2 380.0L87.3 389.0L87.8 398.0L87.9 407.0L88.3 416.0L88.8 425.0L89.1 434.0L89.2 443.0L89.8 452.0L89.9 461.0L90.3 470.0L90.4 479.0L90.2 488.0L90.6 497.0L90.9 506.0L91.2 515.0L91.6 524.0L91.8 533.0L91.9 542.0L92.2 551.0L92.9 560.0L93.5 569.0L93.7 578.0L94.1 587.0L94.3 596.0L94.5 605.0L95.0 614.0" stroke-width="1.10"/>
<path d="M146.5 2.0L146.2 11.0L146.1 20.0L146.3 29.0L146.4 38.0L146.8 47.0L146.8 56.0L147.1 65.0L147.3 74.0L147.4 83.0L147.7 92.0L147.9 101.0L147.9 110.0L148.2 119.0L148.1 128.0L148.2 137.0L148.3 146.0L148.6 155.0L148.7 164.0L148.9 173.0L149.1 182.0L149.6 191.0L149.6 200.0L149.8 209.0L150.0 218.0L149.9 227.0L150.7 236.0L150.8 245.0L150.6 254.0L151.1 263.0L150.9 272.0L151.1 281.0L151.5 290.0L151.5 299.0L151.5 308.0L151.6 317.0L151.7 326.0L151.5 335.0L151.4 344.0L151.5 353.0L152.0 362.0L152.3 371.0L152.9 380.0L153.2 389.0L153.3 398.0L153.5 407.0L153.3 416.0L153.3 425.0L153.4 434.0L153.7 443.0L154.1 452.0L154.3 461.0L154.4 470.0L154.3 479.0L154.5 488.0L154.9 497.0L155.3 506.0L155.5 515.0L156.4 524.0L157.1 533.0L157.5 542.0L157.7 551.0L158.0 560.0L158.5 569.0L158.9 578.0L159.4 587.0L160.0 596.0L160.7 605.0L161.3 614.0" stroke-width="1.10"/>
<path d="M207.3 2.0L207.8 11.0L208.0 20.0L208.2 29.0L209.0 38.0L209.3 47.0L210.1 56.0L210.3 65.0L210.8 74.0L211.3 83.0L211.6 92.0L211.9 101.0L212.1 110.0L212.3 119.0L212.5 128.0L212.6 137.0L213.3 146.0L213.5 155.0L214.3 164.0L214.0 173.0L214.3 182.0L214.8 191.0L215.0 200.0L215.6 209.0L216.1 218.0L216.4 227.0L216.6 236.0L217.2 245.0L217.2 254.0L217.1 263.0L217.0 272.0L216.9 281.0L216.5 290.0L216.4 299.0L217.5 308.0L218.4 317.0L219.1 326.0L220.0 335.0L221.0 344.0L222.1 353.0L226.4 362.0L230.5 371.0L232.4 380.0L232.4 389.0L231.4 398.0L230.8 407.0L230.4 416.0L229.7 425.0L229.2 434.0L228.1 443.0L226.3 452.0L225.3 461.0L223.8 470.0L222.1 479.0L221.1 488.0L222.7 497.0L224.5 506.0L226.2 515.0L228.2 524.0L228.5 533.0L229.0 542.0L229.3 551.0L229.4 560.0L229.9 569.0L230.0 578.0L229.1 587.0L227.9 596.0L226.8 605.0L225.5 614.0" stroke-width="1.10"/>
<path d="M264.6 2.0L265.1 11.0L266.1 20.0L266.8 29.0L267.8 38.0L268.7 47.0L269.8 56.0L270.5 65.0L271.7 74.0L272.7 83.0L273.0 92.0L273.5 101.0L274.0 110.0L274.7 119.0L275.6 128.0L275.7 137.0L276.0 146.0L276.1 155.0L276.4 164.0L276.5 173.0L277.1 182.0L277.3 191.0L278.2 200.0L278.9 209.0L279.1 218.0L279.4 227.0L279.8 236.0L280.6 245.0L280.9 254.0L281.0 263.0L281.5 272.0L282.2 281.0L283.4 290.0L285.2 299.0L285.6 308.0L286.1 317.0L286.2 326.0L286.5 335.0L286.7 344.0L286.4 353.0L285.9 362.0L284.8 371.0L284.2 380.0L283.3 389.0L283.1 398.0L282.7 407.0L282.4 416.0L282.2 425.0L281.5 434.0L280.5 443.0L280.0 452.0L279.7 461.0L279.3 470.0L279.1 479.0L278.8 488.0L278.0 497.0L277.6 506.0L277.7 515.0L277.1 524.0L276.1 533.0L275.6 542.0L275.4 551.0L275.5 560.0L275.3 569.0L275.3 578.0L274.8 587.0L275.0 596.0L275.4 605.0L275.7 614.0" stroke-width="1.10"/>
<path d="M347.1 2.0L347.2 11.0L346.5 20.0L346.5 29.0L346.5 38.0L346.3 47.0L346.4 56.0L346.4 65.0L346.6 74.0L346.7 83.0L346.7 92.0L346.3 101.0L346.0 110.0L345.9 119.0L345.9 128.0L345.9 137.0L346.3 146.0L346.1 155.0L346.0 164.0L346.1 173.0L346.0 182.0L346.1 191.0L346.0 200.0L346.4 209.0L346.3 218.0L346.5 227.0L346.5 236.0L346.9 245.0L346.6 254.0L346.7 263.0L346.6 272.0L346.6 281.0L346.9 290.0L346.6 299.0L346.3 308.0L346.1 317.0L346.2 326.0L345.7 335.0L345.7 344.0L345.4 353.0L345.1 362.0L345.1 371.0L345.1 380.0L345.0 389.0L344.9 398.0L345.0 407.0L345.3 416.0L345.0 425.0L345.3 434.0L345.6 443.0L346.3 452.0L347.1 461.0L347.6 470.0L348.0 479.0L348.2 488.0L348.6 497.0L349.2 506.0L350.0 515.0L350.2 524.0L350.8 533.0L351.4 542.0L352.3 551.0L352.8 560.0L353.0 569.0L353.1 578.0L353.3 587.0L353.4 596.0L353.9 605.0L354.5 614.0" stroke-width="1.70"/>
<path d="M369.4 2.0L369.9 11.0L370.0 20.0L370.3 29.0L370.3 38.0L370.5 47.0L371.0 56.0L371.2 65.0L370.9 74.0L371.1 83.0L371.1 92.0L370.9 101.0L370.9 110.0L371.3 119.0L371.9 128.0L371.9 137.0L372.4 146.0L372.9 155.0L372.8 164.0L373.0 173.0L373.2 182.0L373.5 191.0L373.3 200.0L373.5 209.0L374.0 218.0L374.5 227.0L375.1 236.0L375.3 245.0L376.0 254.0L376.4 263.0L376.3 272.0L376.7 281.0L376.8 290.0L377.1 299.0L377.3 308.0L379.1 317.0L381.0 326.0L382.8 335.0L384.8 344.0L386.7 353.0L388.5 362.0L390.2 371.0L390.4 380.0L390.5 389.0L390.6 398.0L390.5 407.0L390.7 416.0L391.4 425.0L391.4 434.0L391.7 443.0L391.7 452.0L391.9 461.0L392.5 470.0L393.0 479.0L393.2 488.0L393.5 497.0L393.6 506.0L393.7 515.0L393.7 524.0L393.8 533.0L394.2 542.0L395.0 551.0L395.8 560.0L396.4 569.0L396.7 578.0L397.4 587.0L397.8 596.0L398.7 605.0L399.5 614.0" stroke-width="1.10"/>
<path d="M430.2 2.0L430.4 11.0L430.2 20.0L430.8 29.0L431.3 38.0L431.3 47.0L431.6 56.0L432.1 65.0L432.2 74.0L432.9 83.0L433.1 92.0L433.1 101.0L433.7 110.0L434.0 119.0L434.2 128.0L434.6 137.0L434.5 146.0L435.2 155.0L435.3 164.0L435.6 173.0L435.8 182.0L436.2 191.0L436.1 200.0L435.2 209.0L434.6 218.0L433.8 227.0L432.9 236.0L432.1 245.0L431.2 254.0L430.5 263.0L430.2 272.0L429.6 281.0L429.3 290.0L428.9 299.0L429.0 308.0L428.9 317.0L429.1 326.0L429.6 335.0L430.0 344.0L430.2 353.0L430.8 362.0L430.8 371.0L430.9 380.0L431.3 389.0L432.2 398.0L432.5 407.0L432.6 416.0L433.0 425.0L433.5 434.0L434.0 443.0L434.2 452.0L434.3 461.0L434.6 470.0L435.0 479.0L435.7 488.0L436.4 497.0L436.6 506.0L436.8 515.0L437.1 524.0L437.3 533.0L437.8 542.0L438.2 551.0L438.6 560.0L439.2 569.0L439.5 578.0L439.5 587.0L439.5 596.0L439.6 605.0L439.6 614.0" stroke-width="1.10"/>
<path d="M462.7 195.0L463.1 204.0L463.3 213.0L463.5 222.0L463.5 231.0L463.4 240.0L463.4 249.0L464.0 258.0L463.8 267.0L464.1 276.0L464.5 285.0L464.8 294.0L465.0 303.0L465.4 312.0L465.4 321.0L465.8 330.0L466.4 339.0L466.4 348.0L466.4 357.0L466.7 366.0L467.1 375.0L467.7 384.0L468.1 393.0L468.1 398.0" stroke-width="1.10"/>
<path d="M543.8 195.0L543.8 204.0L543.9 213.0L543.6 222.0L543.7 231.0L543.7 240.0L544.0 249.0L543.7 258.0L543.9 267.0L543.6 276.0L543.5 285.0L543.5 294.0L543.9 303.0L544.7 312.0L544.9 321.0L545.0 330.0L545.3 339.0L545.1 348.0L545.3 357.0L545.1 366.0L545.5 375.0L546.0 384.0L546.1 393.0L546.0 398.0" stroke-width="1.10"/>
<path d="M596.4 195.0L596.8 204.0L597.0 213.0L597.4 222.0L597.3 231.0L597.6 240.0L598.1 249.0L598.5 258.0L598.8 267.0L598.8 276.0L599.2 285.0L599.5 294.0L599.8 303.0L600.1 312.0L600.7 321.0L601.4 330.0L601.9 339.0L602.6 348.0L603.3 357.0L604.1 366.0L604.6 375.0L604.9 384.0L605.2 393.0L605.5 398.0" stroke-width="1.10"/>
<path d="M282.6 215.0L282.7 224.0L283.2 233.0L283.9 242.0L284.7 251.0L285.1 260.0L286.1 269.0L281.2 278.0L275.3 287.0L268.6 296.0L259.9 305.0L254.2 314.0L249.2 323.0L244.7 332.0L241.1 341.0L238.4 350.0L235.7 359.0L232.9 368.0L231.6 372.0" stroke-width="0.80"/>
<path d="M234.1 439.0L237.8 448.0L242.1 457.0L246.4 466.0L250.6 475.0L254.8 484.0L259.7 493.0L263.8 502.0L267.5 511.0L270.1 520.0L273.0 529.0L275.1 538.0L276.9 543.0" stroke-width="0.80"/>
</g>
<g>
<path d="M119.2 25.8L135.5 19.2L153.2 11.8L158.3 5.9L170.9 5.9L172.4 10.3L159.1 14.8L151.7 23.6L144.3 31L136.9 34.7L119.9 34.7Z" fill="#050200"/>
<path d="M170.9 5.9L179.8 6.6L180.5 13.3L173.9 25.1L165 31.8L156.1 34.7L144.3 34.7L148.7 28L159.1 16.2L172.4 10.3Z" fill="#fff"/>
<path d="M144.3 36.2L159.1 34.7L162 48.7L165 62L170.9 76.8L171.6 99L167.9 82.7L159.1 70.9L151.7 59.1L150.2 44.3Z" fill="#050200"/>
<path d="M165 34L184.9 25.8L176.8 38.4L173.9 48.7L169.4 42.8L166.5 38.4Z" fill="#050200"/>
<path d="M162 35.4L165.2 46L167.4 58L171.2 66L176.8 69.4L182.7 70.9L180.5 76.8L172.4 73.9L167.6 66.5L164.4 58L162.3 48.7Z" fill="#f4ede0"/>
<path d="M174.6 39.9L177.5 51.7L176 53.2L173.9 44.3Z" fill="#f4ede0"/>
<path d="M114.6 153L114.8 200L116.2 212L113 228L110 238L104 245L107.5 236L108.5 226L108 214L110 204L113.5 190Z" fill="#050200"/>
<path d="M115.3 196L116.9 212L113.6 229L114.9 212Z" fill="#f4ede0"/>
<g fill="none" stroke-linecap="round" stroke-linejoin="round"><path d="M522.5 262l1-7 4-5 6-2.5 6 .5 4-1 6 1.5 6 3 5 5 3 6 1 9M536 272l2 8 1 10M534.3 265.7l-0.0 1.7M529.3 252.3l2.1 3.1M536.3 249.2l1.6 1.5M534.9 263.8l0.5 3.6M526.1 259.2l-2.5 2.3M540.8 261.1l1.3 2.9M528.8 264.8l0.5 3.1M526.4 261.5l-0.6 2.2M526.9 255.3l-1.1 2.3M528.7 259.2l-0.5 1.3M539.9 260.8l-1.2 1.3M529.4 258.6l-0.3 1.3M534.8 251.9l-1.9 3.9M534.0 256.4l-2.0 3.5M538.4 257.8l0.3 2.0M529.2 250.2l0.4 2.9M529.9 262.0l-1.2 3.7M531.1 268.5l2.3 1.5M538.7 251.1l2.4 1.1M540.7 261.4l1.6 3.0M538.7 253.7l-0.7 1.5M526.4 260.2l0.8 1.4M532.7 250.1l1.5 1.4" stroke="#241204" stroke-width="1.5"/><path d="M548 250l6 3 5 4 4 6 1.5 9M540.1 259.5l-1.3 1.4M538.1 262.1l0.8 3.7M526.7 264.7l-0.2 3.8M523.4 257.7l1.1 3.9M540.2 253.9l-0.6 2.8M536.0 255.7l1.4 3.8M530.8 259.6l-0.6 1.4M534.6 253.9l-1.5 2.0M534.0 263.8l0.9 2.2M532.3 251.2l-0.6 2.8M527.8 257.6l-0.0 2.9M535.2 250.2l-0.6 3.8M537.0 252.5l0.6 1.9M523.6 257.7l0.2 2.5M535.1 252.7l0.7 2.7M532.0 250.3l0.6 3.1M530.0 268.0l1.0 2.6M540.8 263.5l-0.5 3.0M527.0 255.6l-0.3 3.9M536.8 265.0l-1.0 2.7M530.1 261.4l1.9 2.8M531.1 257.7l-0.9 3.7M536.4 249.6l1.3 3.1" stroke="#f3e8d2" stroke-width="1.4"/></g>
</g>
</g>
<rect x="414.4" y="0" width="192.8" height="195" fill="#fff"/>
<g clip-path="url(#I)"><g filter="url(#cm2)">
<rect x="420" y="-4" width="194" height="194" fill="#5e5e5e"/>
<path d="M420.8 6.0L613.0 6.0L613.0 16.0L420.8 16.0Z" fill="#a8a8a8"/>
<path d="M420.8 28.0L613.0 33.0L613.0 39.0L420.8 34.0Z" fill="#adadad"/>
<path d="M420.8 41.0L613.0 47.0L613.0 55.0L420.8 49.0Z" fill="#b2b2b2"/>
<path d="M420.8 60.0L613.0 61.0L613.0 73.0L420.8 72.0Z" fill="#b8b8b8"/>
<path d="M507.9 78.5L613.0 79.0L613.0 85.0L507.9 84.5Z" fill="#a8a8a8"/>
<path d="M420.8 94.0L613.0 95.0L613.0 106.0L420.8 105.0Z" fill="#ababab"/>
<path d="M480.9 111.6L613.0 113.0L613.0 119.0L480.9 117.6Z" fill="#adadad"/>
<path d="M420.8 121.0L613.0 123.0L613.0 136.0L420.8 134.0Z" fill="#b8b8b8"/>
<path d="M471.9 142.8L613.0 145.0L613.0 151.0L471.9 148.8Z" fill="#ababab"/>
<path d="M420.8 154.0L613.0 157.0L613.0 173.0L420.8 170.0Z" fill="#bababa"/>
<path d="M420.8 176.0L613.0 177.0L613.0 183.0L420.8 182.0Z" fill="#ababab"/>
</g></g>
<rect x="620.2" y="30.2" width="20" height="369" fill="url(#cb)" stroke="#111" stroke-width="1.1"/>
<circle cx="521.1" cy="342.8" r="10.1" fill="#30d6c8"/>
<circle cx="203.6" cy="566.8" r="10.4" fill="#e3381b" fill-opacity=".9"/>
<rect x="27.5" y="578.7" width="42" height="9.3" fill="#000"/>
<path d="M460.9 459.7H456.7L465.9 441.6L475.1 459.7H470.8V578.3H585.6V574.6L603.7 583.6L585.6 592.6V588.1H460.9Z" fill="#000"/>
<text transform="translate(11.67 40.80) scale(0.9465 1)" font-size="34.00" >(a)</text>
<text transform="translate(436.60 435.83) scale(1.1969 1)" font-size="33.42" class="b" stroke-width="1.60">&lt;</text>
<text transform="translate(532.47 435.83) scale(1.2353 1)" font-size="33.42" class="b" stroke-width="1.60">&gt;</text>
<clipPath id="k0"><path clip-rule="evenodd" d="M-200 -200H400V200H-200ZM0.14 -5.01H6.97V1.80H0.14ZM13.17 -5.01H19.58V1.80H13.17Z"/></clipPath><text transform="translate(460.58 435.83) scale(1.1102 1)" font-size="33.42" class="b" stroke-width="1.60" clip-path="url(#k0)">1</text>
<text transform="translate(478.62 435.83) scale(0.9575 1)" font-size="33.42" class="b" stroke-width="1.60">0</text>
<text transform="translate(496.70 435.83) scale(1.0333 1)" font-size="33.42" class="b" stroke-width="1.60" clip-path="url(#k0)">1</text>
<text transform="translate(513.33 435.83) scale(0.9461 1)" font-size="33.42" class="b" stroke-width="1.60">0</text>
<rect x="498.2" y="405.2" width="12.1" height="2.7" fill="#000"/>
<text transform="translate(551.98 564.73) scale(1.2347 1)" font-size="33.29" class="b" stroke-width="1.60">&lt;</text>
<text transform="translate(649.48 564.73) scale(1.2347 1)" font-size="33.29" class="b" stroke-width="1.60">&gt;</text>
<clipPath id="k1"><path clip-rule="evenodd" d="M-200 -200H400V200H-200ZM0.13 -5.00H6.94V1.80H0.13ZM13.12 -5.00H19.51V1.80H13.12Z"/></clipPath><text transform="translate(576.45 564.73) scale(1.1397 1)" font-size="33.29" class="b" stroke-width="1.60" clip-path="url(#k1)">1</text>
<text transform="translate(594.46 564.73) scale(1.1311 1)" font-size="33.29" class="b" stroke-width="1.60" clip-path="url(#k1)">1</text>
<text transform="translate(612.48 564.73) scale(0.9635 1)" font-size="33.29" class="b" stroke-width="1.60">2</text>
<text transform="translate(631.84 564.73) scale(0.9155 1)" font-size="33.29" class="b" stroke-width="1.60">0</text>
<rect x="612.3" y="534.5" width="17.9" height="2.7" fill="#000"/>
<text transform="translate(503.30 532.62) scale(0.8763 1)" font-size="30.96" class="b" stroke-width="1.60">SiC</text>
<text transform="translate(16.19 565.25) scale(1.0264 1)" font-size="30.42" class="b" stroke-width="1.60">2 µm</text>
<text transform="translate(642.32 42.83) scale(0.9761 1)" font-size="34.86" class="b" stroke-width="1.60">7º</text>
<text transform="translate(642.09 410.01) scale(1.0044 1)" font-size="33.95" class="b" stroke-width="1.60">0º</text>
<g id="plot">
<g fill="none" stroke="#000" stroke-width="3.2">
<rect x="160.8" y="700.5" width="282.6" height="362.6"/>
<rect x="473.9" y="700.5" width="169.3" height="362.6"/>
<path d="M188.6 700.5v16.0M188.6 1063.1v-16.0M216.8 700.5v8.6M216.8 1063.1v-8.6M245.1 700.5v12.2M245.1 1063.1v-12.2M273.3 700.5v8.6M273.3 1063.1v-8.6M301.5 700.5v16.0M301.5 1063.1v-16.0M329.7 700.5v8.6M329.7 1063.1v-8.6M357.9 700.5v12.2M357.9 1063.1v-12.2M386.2 700.5v8.6M386.2 1063.1v-8.6M414.4 700.5v16.0M414.4 1063.1v-16.0M501.7 700.5v16.0M501.7 1063.1v-16.0M529.9 700.5v8.6M529.9 1063.1v-8.6M558.1 700.5v12.2M558.1 1063.1v-12.2M586.3 700.5v8.6M586.3 1063.1v-8.6M614.5 700.5v16.0M614.5 1063.1v-16.0M160.8 1026.8h12.0M443.4 1026.8h-12.0M473.9 1026.8h12.0M643.2 1026.8h-12.0M160.8 990.6h15.5M443.4 990.6h-15.5M473.9 990.6h15.5M643.2 990.6h-15.5M160.8 954.3h12.0M443.4 954.3h-12.0M473.9 954.3h12.0M643.2 954.3h-12.0M160.8 918.1h15.5M443.4 918.1h-15.5M473.9 918.1h15.5M643.2 918.1h-15.5M160.8 881.8h12.0M443.4 881.8h-12.0M473.9 881.8h12.0M643.2 881.8h-12.0M160.8 845.5h15.5M443.4 845.5h-15.5M473.9 845.5h15.5M643.2 845.5h-15.5M160.8 809.3h12.0M443.4 809.3h-12.0M473.9 809.3h12.0M643.2 809.3h-12.0M160.8 773.0h15.5M443.4 773.0h-15.5M473.9 773.0h15.5M643.2 773.0h-15.5M160.8 736.8h12.0M443.4 736.8h-12.0M473.9 736.8h12.0M643.2 736.8h-12.0"/>
</g>
<path d="M161.6 936.6h0M162.7 929.5h0M163.8 931.1h0M164.9 932.3h0M166.0 927.2h0M167.1 928.5h0M168.2 927.2h0M169.3 920.0h0M170.4 927.7h0M171.5 924.5h0M172.6 918.6h0M173.7 918.3h0M174.8 918.7h0M175.9 914.3h0M177.0 912.5h0M178.1 907.0h0M179.2 912.1h0M180.3 909.2h0M181.4 908.2h0M182.5 900.7h0M183.6 909.7h0M184.7 903.3h0M185.8 900.1h0M186.9 906.8h0M188.0 898.6h0M189.1 892.6h0M190.2 894.7h0M191.3 886.8h0M192.4 895.9h0M193.5 889.2h0M194.6 886.3h0M195.7 890.4h0M196.8 880.4h0M197.9 886.6h0M199.0 877.0h0M200.1 880.6h0M201.2 877.8h0M202.3 885.5h0M203.4 885.5h0M204.5 876.3h0M205.6 877.5h0M206.7 871.4h0M207.8 870.8h0M208.9 863.4h0M210.0 857.2h0M211.1 851.6h0M212.2 851.9h0M213.3 849.9h0M214.4 837.2h0M215.5 829.9h0M216.6 834.3h0M217.7 826.1h0M218.8 827.4h0M219.9 829.7h0M221.0 830.6h0M222.1 832.2h0M223.2 830.7h0M224.3 839.5h0M225.4 840.0h0M226.5 846.7h0M227.6 845.9h0M228.7 845.5h0M229.8 854.1h0M230.9 862.0h0M232.0 856.5h0M233.1 853.8h0M234.2 851.8h0M235.3 851.4h0M236.4 853.4h0M237.5 850.0h0M238.6 858.6h0M239.7 854.7h0M240.8 858.0h0M241.9 864.4h0M243.0 871.9h0M244.1 873.1h0M245.2 879.0h0M246.3 884.3h0M247.4 883.6h0M248.5 880.0h0M249.6 889.7h0M250.7 891.9h0M251.8 891.2h0M252.9 887.7h0M254.0 891.0h0M255.1 890.6h0M256.2 892.3h0M257.3 898.3h0M258.4 899.9h0M259.5 898.0h0M260.6 899.1h0M261.7 901.0h0M262.8 900.2h0M263.9 902.0h0M265.0 901.9h0M266.1 905.9h0M267.2 915.5h0M268.3 912.4h0M269.4 909.8h0M270.5 910.9h0M271.6 911.1h0M272.7 915.8h0M273.8 914.8h0M274.9 907.8h0M276.0 912.8h0M277.1 907.5h0M278.2 912.2h0M279.3 904.8h0M280.4 906.6h0M281.5 896.2h0M282.6 893.4h0M283.7 891.3h0M284.8 887.5h0M285.9 879.9h0M287.0 868.8h0M288.1 867.3h0M289.2 858.2h0M290.3 851.0h0M291.4 846.5h0M292.5 853.5h0M293.6 845.5h0M294.7 843.1h0M295.8 846.4h0M296.9 842.6h0M298.0 839.7h0M299.1 840.7h0M300.2 837.9h0M301.3 838.7h0M302.4 842.4h0M303.5 842.0h0M304.6 842.1h0M305.7 847.6h0M306.8 851.7h0M307.9 866.1h0M309.0 869.9h0M310.1 875.1h0M311.2 886.8h0M312.3 884.8h0M313.4 885.5h0M314.5 897.2h0M315.6 898.0h0M316.7 908.8h0M317.8 910.6h0M318.9 909.7h0M320.0 908.8h0M321.1 908.8h0M322.2 905.3h0M323.3 895.9h0M324.4 893.3h0M325.5 884.7h0M326.6 885.4h0M327.7 875.1h0M328.8 877.9h0M329.9 878.3h0M331.0 877.1h0M332.1 876.7h0M333.2 864.2h0M334.3 870.1h0M335.4 869.8h0M336.5 867.4h0M337.6 859.9h0M338.7 863.2h0M339.8 866.9h0M340.9 854.7h0M342.0 860.1h0M343.1 861.4h0M344.2 854.9h0M345.3 858.7h0M346.4 852.7h0M347.5 852.9h0M348.6 852.1h0M349.7 854.6h0M350.8 852.8h0M351.9 855.4h0M353.0 848.3h0M354.0 853.0h0M355.5 836.7h0M356.6 844.1h0M357.7 822.4h0M358.4 794.3h0M358.7 765.1h0M359.9 748.1h0M360.6 739.2h0M362.4 732.1h0M363.6 755.5h0M365.1 760.6h0M365.8 743.6h0M366.2 774.9h0M367.3 816.5h0M368.4 836.0h0M369.5 858.1h0M370.9 880.9h0M371.8 889.5h0M372.8 903.0h0M374.0 906.5h0M375.1 913.2h0M376.2 914.4h0M377.3 910.1h0M378.4 920.1h0M379.5 917.4h0M380.6 922.3h0M381.7 925.3h0M382.8 936.9h0M383.9 938.9h0M385.0 935.6h0M386.1 941.5h0M387.2 951.9h0M388.3 950.4h0M389.4 957.9h0M390.5 955.3h0M391.6 949.6h0M392.7 954.6h0M393.8 946.3h0M394.9 940.7h0M396.0 955.5h0M397.1 939.9h0M398.2 950.0h0M399.3 951.5h0M400.4 948.9h0M401.5 942.4h0M402.6 953.0h0M403.7 943.9h0M404.8 944.5h0M405.9 948.5h0M407.0 954.0h0M408.1 954.0h0M409.2 957.7h0M410.3 954.6h0M411.4 956.5h0M412.5 953.7h0M413.6 957.7h0M414.7 962.0h0M415.8 960.1h0M416.9 964.7h0M418.0 962.3h0M419.1 963.8h0M420.2 967.2h0M421.3 967.2h0M422.4 971.1h0M423.5 970.5h0M424.6 977.0h0M425.7 970.1h0M426.8 970.6h0M427.9 968.0h0M429.0 970.1h0M430.1 970.4h0M431.2 962.6h0M432.3 961.9h0M433.4 961.5h0M434.5 956.0h0M435.6 953.4h0M436.7 958.0h0M437.8 953.6h0M438.9 954.8h0M440.0 958.1h0M441.1 958.5h0M442.2 954.6h0M443.3 955.7h0" fill="none" stroke="#ff0000" stroke-width="11.8" stroke-linecap="round"/>
<path d="M162.7 1005.9h0M163.8 1004.4h0M164.9 998.7h0M166.0 1008.7h0M167.1 1004.5h0M168.2 1006.7h0M169.3 1000.5h0M170.4 1008.2h0M171.5 1001.9h0M172.6 1003.2h0M173.7 998.8h0M174.8 1002.5h0M175.9 1002.0h0M177.0 1001.9h0M178.1 1003.5h0M179.2 1000.8h0M180.3 1002.3h0M181.4 996.3h0M182.5 992.7h0M183.6 993.5h0M184.7 993.2h0M185.8 992.9h0M186.9 990.5h0M188.0 981.3h0M189.1 987.2h0M190.2 990.4h0M191.3 985.6h0M192.4 983.5h0M193.5 985.8h0M194.6 981.8h0M195.7 984.1h0M196.8 980.6h0M197.9 983.7h0M199.0 979.5h0M200.1 974.2h0M201.2 977.2h0M202.3 977.6h0M203.4 972.1h0M204.5 971.9h0M205.6 965.2h0M206.7 974.8h0M207.8 969.4h0M208.9 963.8h0M210.0 964.3h0M211.1 968.5h0M212.2 970.8h0M213.3 967.2h0M214.4 968.1h0M215.5 962.2h0M216.6 960.6h0M217.7 966.9h0M218.8 964.7h0M219.9 962.2h0M221.0 965.0h0M222.1 956.0h0M223.2 956.0h0M224.3 959.1h0M225.4 961.0h0M226.5 954.4h0M227.6 959.1h0M228.7 951.0h0M229.8 953.3h0M230.9 949.9h0M232.0 943.4h0M233.1 947.4h0M234.2 947.8h0M235.3 943.1h0M236.4 942.1h0M237.5 945.6h0M238.6 938.3h0M239.7 939.0h0M240.8 943.1h0M241.9 941.9h0M243.0 949.4h0M244.1 945.5h0M245.2 941.2h0M246.3 942.0h0M247.4 953.2h0M248.5 943.2h0M249.6 945.8h0M250.7 952.3h0M251.8 955.6h0M252.9 956.1h0M254.0 954.3h0M255.1 955.3h0M256.2 962.7h0M257.3 964.0h0M258.4 964.3h0M259.5 975.7h0M260.6 975.8h0M261.7 973.9h0M262.8 974.7h0M263.9 977.0h0M265.0 974.7h0M266.1 972.1h0M267.2 976.1h0M268.3 969.2h0M269.4 973.7h0M270.5 966.5h0M271.6 969.3h0M272.7 968.4h0M273.8 974.3h0M274.9 964.9h0M276.0 963.5h0M277.1 961.2h0M278.2 954.5h0M279.3 949.5h0M280.4 947.9h0M281.5 945.8h0M282.6 945.3h0M283.7 934.5h0M284.8 943.3h0M285.9 939.3h0M287.0 930.3h0M288.1 923.0h0M289.2 929.5h0M290.3 929.3h0M291.4 921.7h0M292.5 929.5h0M293.6 928.7h0M294.7 927.0h0M295.8 932.0h0M296.9 933.8h0M298.0 929.7h0M299.1 932.7h0M300.2 935.5h0M301.3 940.6h0M302.4 946.3h0M303.5 950.6h0M304.6 954.9h0M305.7 957.2h0M306.8 971.4h0M307.9 971.8h0M309.0 985.2h0M310.1 1000.0h0M311.2 997.5h0M312.3 995.8h0M313.4 993.5h0M314.5 1000.4h0M315.6 994.7h0M316.7 994.3h0M317.8 993.4h0M318.9 988.0h0M320.0 985.0h0M321.1 980.9h0M322.2 973.8h0M323.3 978.6h0M324.4 982.9h0M325.5 981.8h0M326.6 982.3h0M327.7 979.2h0M328.8 978.8h0M329.9 977.5h0M331.0 968.5h0M332.1 966.7h0M333.2 958.4h0M334.3 962.6h0M335.4 955.1h0M336.5 951.7h0M337.6 951.7h0M338.7 948.1h0M339.8 942.2h0M340.9 942.9h0M342.0 933.8h0M343.1 937.8h0M344.2 934.4h0M345.3 926.2h0M346.4 933.1h0M347.5 924.4h0M348.6 927.5h0M349.7 922.7h0M350.8 925.9h0M351.9 926.3h0M353.0 919.1h0M354.1 916.4h0M355.2 920.7h0M356.3 924.3h0M357.4 920.7h0M358.5 920.4h0M359.6 924.7h0M360.7 915.4h0M361.8 923.2h0M362.9 922.0h0M364.0 928.5h0M365.1 927.6h0M366.2 929.4h0M367.3 934.9h0M368.4 935.2h0M369.5 950.4h0M370.6 955.6h0M371.7 962.7h0M372.8 966.1h0M373.9 975.9h0M375.0 976.8h0M376.1 982.9h0M377.2 986.9h0M378.3 987.0h0M379.4 995.6h0M380.5 999.2h0M381.6 1002.8h0M382.7 1004.0h0M383.8 1006.8h0M384.9 1011.7h0M386.0 1017.1h0M387.1 1008.5h0M388.2 1014.2h0M389.3 1012.7h0M390.4 1017.8h0M391.5 1017.5h0M392.6 1019.7h0M393.7 1007.7h0M394.8 1014.9h0M395.9 1014.4h0M397.0 1018.9h0M398.1 1018.6h0M399.2 1020.6h0M400.3 1026.5h0M401.4 1032.1h0M402.5 1018.4h0M403.6 1027.9h0M404.7 1031.3h0M405.8 1031.8h0M406.9 1031.5h0M408.0 1029.1h0M409.1 1031.2h0M410.2 1037.3h0M411.3 1039.7h0M412.4 1037.8h0M413.5 1036.0h0M414.6 1040.2h0M415.7 1039.4h0M416.8 1042.1h0M417.9 1041.0h0M419.0 1038.8h0M420.1 1041.4h0M421.2 1035.1h0M422.3 1039.6h0M423.4 1038.8h0M424.5 1029.6h0M425.6 1033.3h0M426.7 1027.4h0M427.8 1032.6h0M428.9 1032.4h0M430.0 1029.3h0M431.1 1033.7h0M432.2 1029.6h0M433.3 1028.5h0M434.4 1028.5h0M435.5 1029.3h0M436.6 1027.6h0M437.7 1027.9h0M438.8 1024.2h0M439.9 1028.4h0M441.0 1029.3h0M442.1 1024.4h0M443.2 1021.4h0" fill="none" stroke="#06a7fc" stroke-width="11.8" stroke-linecap="round"/>
<path d="M311.9 1020.5h0" fill="none" stroke="#06a7fc" stroke-width="11.8" stroke-linecap="round"/>
<path d="M218.4 821.9h0M300.2 834.6h0" fill="none" stroke="#ff0000" stroke-width="11.8" stroke-linecap="round"/>
<path d="M473.3 960.2h0M474.4 961.2h0M475.5 957.8h0M476.6 954.9h0M477.7 958.9h0M478.8 962.2h0M479.9 953.3h0M481.0 959.4h0M482.1 957.3h0M483.2 955.9h0M484.3 959.4h0M485.4 954.7h0M486.5 958.8h0M487.6 961.4h0M488.7 958.5h0M489.8 955.7h0M490.9 953.3h0M492.0 954.6h0M493.1 953.1h0M494.2 962.1h0M495.3 957.2h0M496.4 955.1h0M497.5 954.5h0M498.6 955.0h0M499.7 956.9h0M500.8 954.4h0M501.9 962.1h0M503.0 955.8h0M504.1 955.7h0M505.2 958.5h0M506.3 961.4h0M507.4 961.1h0M508.5 956.4h0M509.6 958.3h0M510.7 958.0h0M511.8 958.9h0M512.9 958.2h0M514.0 955.1h0M515.1 954.2h0M516.2 957.4h0M517.3 953.3h0M518.4 959.4h0M519.5 955.4h0M520.6 951.9h0M521.7 952.7h0M522.8 951.1h0M523.9 951.0h0M525.0 952.7h0M526.1 945.3h0M527.2 942.7h0M528.3 945.8h0M529.4 941.8h0M530.5 940.1h0M531.6 936.0h0M532.7 927.0h0M533.8 922.5h0M534.9 912.7h0M536.0 909.7h0M537.1 901.9h0M538.2 895.7h0M539.3 894.8h0M540.4 889.2h0M541.5 875.3h0M542.6 870.0h0M543.7 866.3h0M544.8 860.9h0M545.9 849.3h0M547.0 844.0h0M548.1 834.7h0M549.2 841.3h0M550.3 832.5h0M551.4 830.6h0M552.5 828.4h0M553.6 829.7h0M554.7 829.4h0M555.8 828.7h0M556.9 833.7h0M558.0 834.2h0M559.1 851.0h0M560.2 856.6h0M561.3 868.4h0M562.4 883.4h0M563.5 898.2h0M564.6 902.5h0M565.7 906.9h0M566.8 914.3h0M567.9 917.7h0M569.0 928.3h0M570.1 930.1h0M571.2 935.0h0M572.3 935.9h0M573.4 937.1h0M574.5 945.0h0M575.6 948.5h0M576.7 947.4h0M577.8 947.4h0M578.9 951.9h0M580.0 949.7h0M581.1 953.9h0M582.2 950.7h0M583.3 950.6h0M584.4 955.3h0M585.5 955.3h0M586.6 960.0h0M587.7 954.9h0M588.8 956.3h0M589.9 953.6h0M591.0 951.8h0M592.1 952.1h0M593.2 958.1h0M594.3 953.9h0M595.4 960.0h0M596.5 960.9h0M597.6 956.5h0M598.7 961.7h0M599.8 958.1h0M600.9 960.4h0M602.0 956.9h0M603.1 960.0h0M604.2 955.0h0M605.3 959.1h0M606.4 956.3h0M607.5 957.2h0M608.6 959.1h0M609.7 957.9h0M610.8 957.3h0M611.9 959.4h0M613.0 959.6h0M614.1 953.9h0M615.2 959.0h0M616.3 959.2h0M617.4 955.5h0M618.5 958.5h0M619.6 954.1h0M620.7 961.2h0M621.8 956.9h0M622.9 957.3h0M624.0 960.6h0M625.1 957.1h0M626.2 959.1h0M627.3 954.8h0M628.4 956.0h0M629.5 953.9h0M630.6 957.0h0M631.7 960.2h0M632.8 958.1h0M633.9 959.8h0M635.0 954.8h0M636.1 955.2h0M637.2 956.3h0M638.3 959.0h0M639.4 958.4h0M640.5 957.5h0M641.6 959.1h0M642.7 957.1h0M643.8 957.4h0" fill="none" stroke="#ff0000" stroke-width="11.8" stroke-linecap="round"/>
<path d="M473.3 1033.2h0M474.4 1026.8h0M475.5 1029.4h0M476.6 1034.3h0M477.7 1029.2h0M478.8 1031.2h0M479.9 1026.8h0M481.0 1035.5h0M482.1 1021.2h0M483.2 1025.0h0M484.3 1025.3h0M485.4 1034.4h0M486.5 1030.1h0M487.6 1028.0h0M488.7 1024.5h0M489.8 1030.1h0M490.9 1029.3h0M492.0 1026.5h0M493.1 1023.8h0M494.2 1025.1h0M495.3 1029.6h0M496.4 1030.0h0M497.5 1029.2h0M498.6 1028.4h0M499.7 1022.9h0M500.8 1029.1h0M501.9 1025.4h0M503.0 1029.1h0M504.1 1030.5h0M505.2 1026.6h0M506.3 1025.5h0M507.4 1032.3h0M508.5 1030.1h0M509.6 1026.8h0M510.7 1018.8h0M511.8 1028.8h0M512.9 1031.1h0M514.0 1032.8h0M515.1 1026.7h0M516.2 1026.8h0M517.3 1027.5h0M518.4 1031.8h0M519.5 1025.0h0M520.6 1028.4h0M521.7 1025.3h0M522.8 1029.0h0M523.9 1022.4h0M525.0 1028.6h0M526.1 1025.3h0M527.2 1025.8h0M528.3 1028.0h0M529.4 1029.8h0M530.5 1019.7h0M531.6 1028.5h0M532.7 1026.7h0M533.8 1023.4h0M534.9 1028.8h0M536.0 1024.3h0M537.1 1027.8h0M538.2 1021.0h0M539.3 1019.8h0M540.4 1026.5h0M541.5 1029.4h0M542.6 1023.9h0M543.7 1024.4h0M544.8 1019.4h0M545.9 1016.6h0M547.0 1020.4h0M548.1 1026.4h0M549.2 1015.1h0M550.3 1019.8h0M551.4 1015.1h0M552.5 1022.0h0M553.6 1024.8h0M554.7 1017.7h0M555.8 1020.6h0M556.9 1027.0h0M558.0 1022.7h0M559.1 1019.3h0M560.2 1019.6h0M561.3 1017.8h0M562.4 1027.8h0M563.5 1023.2h0M564.6 1029.9h0M565.7 1029.8h0M566.8 1024.9h0M567.9 1025.6h0M569.0 1030.3h0M570.1 1028.4h0M571.2 1029.0h0M572.3 1022.7h0M573.4 1031.6h0M574.5 1025.8h0M575.6 1021.3h0M576.7 1027.2h0M577.8 1030.9h0M578.9 1036.8h0M580.0 1028.7h0M581.1 1025.7h0M582.2 1037.6h0M583.3 1031.2h0M584.4 1030.0h0M585.5 1027.3h0M586.6 1027.5h0M587.7 1035.8h0M588.8 1029.8h0M589.9 1028.8h0M591.0 1028.8h0M592.1 1035.8h0M593.2 1028.3h0M594.3 1032.4h0M595.4 1031.1h0M596.5 1030.9h0M597.6 1027.0h0M598.7 1032.1h0M599.8 1035.3h0M600.9 1029.6h0M602.0 1026.5h0M603.1 1025.2h0M604.2 1030.1h0M605.3 1028.5h0M606.4 1028.9h0M607.5 1029.2h0M608.6 1024.1h0M609.7 1031.7h0M610.8 1029.7h0M611.9 1028.6h0M613.0 1029.5h0M614.1 1031.7h0M615.2 1028.7h0M616.3 1025.5h0M617.4 1032.2h0M618.5 1026.7h0M619.6 1025.6h0M620.7 1022.6h0M621.8 1027.8h0M622.9 1024.1h0M624.0 1025.8h0M625.1 1029.0h0M626.2 1027.5h0M627.3 1030.7h0M628.4 1028.2h0M629.5 1025.7h0M630.6 1025.8h0M631.7 1025.2h0M632.8 1029.0h0M633.9 1026.8h0M635.0 1025.3h0M636.1 1029.5h0M637.2 1026.8h0M638.3 1024.8h0M639.4 1021.2h0M640.5 1027.8h0M641.6 1027.0h0M642.7 1026.3h0M643.8 1024.6h0" fill="none" stroke="#06a7fc" stroke-width="11.8" stroke-linecap="round"/>
<g font-size="34.6" text-anchor="end">
<text x="152.8" y="1075.7">0</text>
<clipPath id="k0"><path clip-rule="evenodd" d="M-200 -200H400V200H-200ZM1.42 -3.30H8.74V1.00H1.42ZM11.76 -3.30H18.72V1.00H11.76Z"/></clipPath><text transform="translate(75.82 1003.18)" font-size="34.6" text-anchor="start" clip-path="url(#k0)">1000</text>
<text x="152.8" y="930.7">2000</text>
<text x="152.8" y="858.1">3000</text>
<text x="152.8" y="785.6">4000</text>
<text x="152.8" y="713.1">5000</text>
</g><g font-size="34.4" text-anchor="middle">
<clipPath id="k1"><path clip-rule="evenodd" d="M-200 -200H400V200H-200ZM1.41 -3.28H8.69V1.00H1.41ZM11.70 -3.28H18.61V1.00H11.70Z"/></clipPath><text transform="translate(149.93 1105.40)" font-size="34.4" text-anchor="start" clip-path="url(#k1)">1300</text>
<text transform="translate(262.83 1105.40)" font-size="34.4" text-anchor="start" clip-path="url(#k1)">1500</text>
<text transform="translate(375.73 1105.40)" font-size="34.4" text-anchor="start" clip-path="url(#k1)">1700</text>
<text x="501.3" y="1105.4">2600</text>
<text x="614.1" y="1105.4">2800</text>
</g>
<text x="206.4" y="805.8" font-size="34.4">D</text>
<text x="375.7" y="746.2" font-size="34.4">G</text>
<text x="533.6" y="805" font-size="34.4">2D</text>
<text transform="translate(228.47 737.60) scale(0.9913 1)" font-size="26.00" >graphene</text>
<text transform="translate(228.47 767.30) scale(1.0210 1)" font-size="26.00" >buffer</text>
<circle cx="198.8" cy="729.6" r="8.7" fill="#ff0000"/><circle cx="198.8" cy="759.8" r="8.7" fill="#06a7fc"/>
<text x="18.1" y="696.4" font-size="34">(b)</text>
<g transform="translate(56.2 0) rotate(-90)"><text transform="translate(-957.63 0.00) scale(1.0250 1)" font-size="39.40" >Intensity</text></g>
<text transform="translate(249.39 1171.90) scale(1.0008 1)" font-size="38.80" >Raman</text>
<text transform="translate(386.88 1171.90) scale(1.0415 1)" font-size="38.80" >Shift</text>
<text transform="translate(479.53 1171.90) scale(1.0554 1)" font-size="38.80" >[cm</text>
<text transform="translate(570.41 1171.90) scale(1.0177 1)" font-size="38.80" >]</text>
<text transform="translate(546.09 1145.20) scale(1.1996 1)" font-size="26.20" >-</text>
<clipPath id="k2"><path clip-rule="evenodd" d="M-200 -200H400V200H-200ZM0.83 -2.64H6.62V1.00H0.83ZM8.91 -2.64H14.41V1.00H8.91Z"/></clipPath><text transform="translate(558.09 1145.2)" font-size="26.2" clip-path="url(#k2)">1</text>
</g>
</g></svg></body></html>
